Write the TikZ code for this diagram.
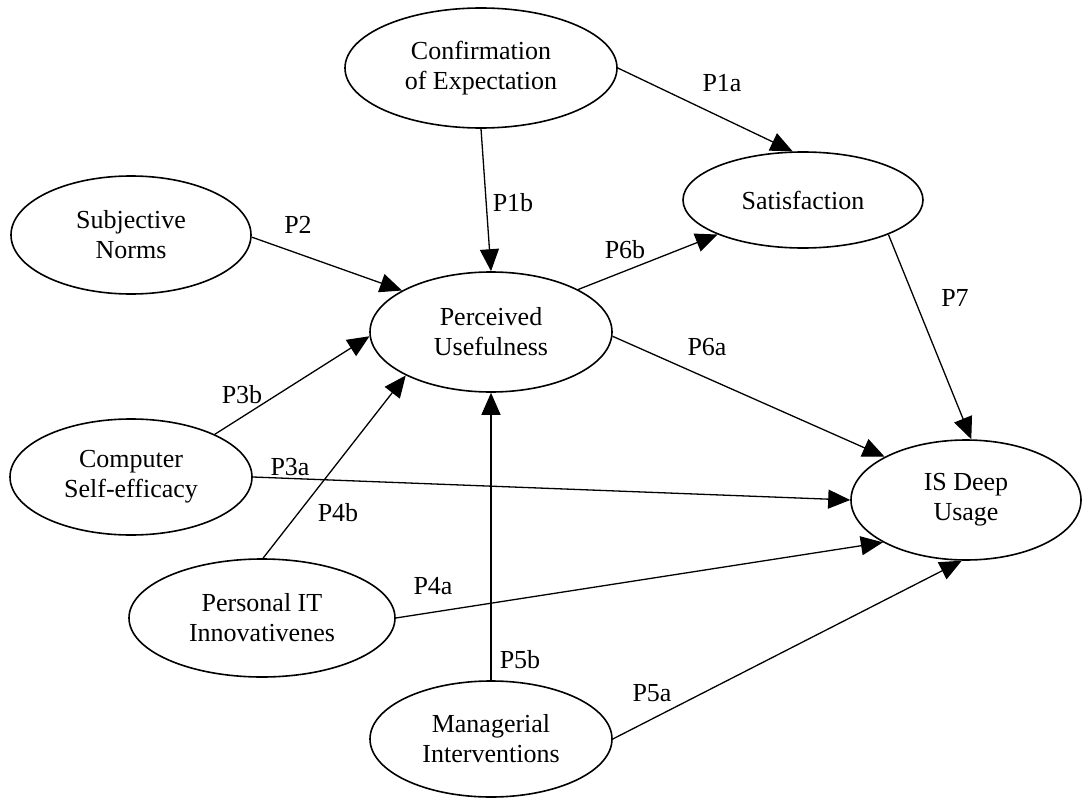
\documentclass[tikz,border=0pt]{standalone}
\usepackage{fontspec}
\setmainfont{Liberation Serif}
\usetikzlibrary{shapes.geometric,arrows.meta}
\begin{document}
\begin{tikzpicture}[x=1pt,y=-1pt,
  construct/.style={draw, ellipse, line width=1.6pt, inner sep=0pt, align=center,
    font=\fontsize{26}{30}\selectfont},
  link/.style={line width=1.3pt, -{Triangle[length=22pt,width=19pt]}},
  plabel/.style={font=\fontsize{26}{30}\selectfont, inner sep=0pt}]
\useasboundingbox (0,0) rectangle (1082,800);
\node[construct, minimum width=272pt, minimum height=120pt] (conf) at (481,68) {Confirmation\\of Expectation};
\node[construct, minimum width=240pt, minimum height=96pt] (sat) at (803,200) {Satisfaction};
\node[construct, minimum width=240pt, minimum height=118pt] (sn) at (131,235) {Subjective\\Norms};
\node[construct, minimum width=242pt, minimum height=120pt] (pu) at (491,332) {Perceived\\Usefulness};
\node[construct, minimum width=242pt, minimum height=116pt] (cse) at (131,477) {Computer\\Self-efficacy};
\node[construct, minimum width=230pt, minimum height=120pt] (isd) at (966,500) {IS Deep\\Usage};
\node[construct, minimum width=266pt, minimum height=118pt] (pit) at (262,618) {Personal IT\\Innovativenes};
\node[construct, minimum width=242pt, minimum height=116pt] (mi) at (491,739) {Managerial\\Interventions};

\draw[link] (conf.0) -- (sat.102);
\draw[link] (conf.-90) -- (pu.90);
\draw[link] (sn.-1) -- (pu.155);
\draw[link] (pu.26) -- (sat.202);
\draw[link] (cse.27) -- (pu.182);
\draw[link] (cse.0) -- (isd.180);
\draw[link] (pit.89) -- (pu.207.6);
\draw[link] (mi.90) -- (pu.-90);
\draw[link] (pu.-2) -- (isd.152.6);
\draw[link] (sat.-22.4) -- (isd.85);
\draw[link] (pit.0) -- (isd.207.4);
\draw[link] (mi.0) -- (isd.-94);

\node[plabel] (l1a) at (722,83) {P1a};
\node[plabel] (l1b) at (513,203) {P1b};
\node[plabel] (l2) at (298,225) {P2};
\node[plabel] (l6b) at (625,250) {P6b};
\node[plabel] (l3b) at (242,395) {P3b};
\node[plabel] (l3a) at (290,467) {P3a};
\node[plabel] (l4b) at (338,513) {P4b};
\node[plabel] (l6a) at (707,347) {P6a};
\node[plabel] (l7) at (955,298) {P7};
\node[plabel] (l4a) at (433,586) {P4a};
\node[plabel] (l5b) at (520,660) {P5b};
\node[plabel] (l5a) at (652,693) {P5a};
\end{tikzpicture}
\end{document}
